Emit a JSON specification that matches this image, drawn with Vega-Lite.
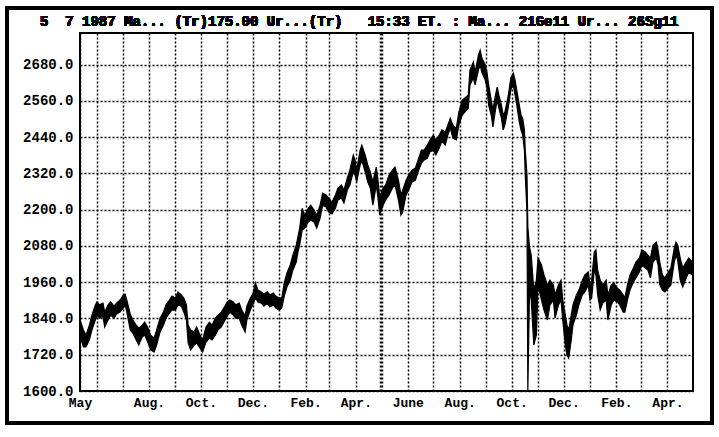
{
  "$schema": "https://vega.github.io/schema/vega-lite/v6.json",
  "width": 613,
  "height": 358,
  "autosize": "none",
  "padding": {"left": 80, "top": 33, "right": 26, "bottom": 46},
  "background": "white",
  "config": {
    "view": {"stroke": "black", "strokeWidth": 2},
    "axis": {
      "labelFont": "Liberation Mono",
      "labelFontWeight": "bold",
      "labelColor": "black",
      "ticks": false,
      "domain": false,
      "title": null,
      "gridColor": "black",
      "gridOpacity": 1,
      "gridDash": [2, 2],
      "tickCount": 100,
      "labelOverlap": false
    }
  },
  "data": {"values": [
    {"d":"1986-05-12","h":1835,"l":1785},{"d":"1986-05-16","h":1802,"l":1746},{"d":"1986-05-19","h":1785,"l":1746},
    {"d":"1986-05-23","h":1818,"l":1769},{"d":"1986-05-26","h":1851,"l":1802},{"d":"1986-05-30","h":1885,"l":1835},
    {"d":"1986-06-01","h":1895,"l":1851},{"d":"1986-06-04","h":1885,"l":1841},{"d":"1986-06-08","h":1891,"l":1848},
    {"d":"1986-06-10","h":1861,"l":1812},{"d":"1986-06-14","h":1885,"l":1835},{"d":"1986-06-17","h":1895,"l":1851},
    {"d":"1986-06-21","h":1881,"l":1841},{"d":"1986-06-24","h":1891,"l":1855},{"d":"1986-06-28","h":1901,"l":1861},
    {"d":"1986-07-02","h":1918,"l":1875},{"d":"1986-07-04","h":1921,"l":1885},{"d":"1986-07-06","h":1901,"l":1861},
    {"d":"1986-07-10","h":1855,"l":1802},{"d":"1986-07-13","h":1835,"l":1792},{"d":"1986-07-17","h":1818,"l":1769},
    {"d":"1986-07-20","h":1808,"l":1752},{"d":"1986-07-24","h":1818,"l":1779},{"d":"1986-07-27","h":1828,"l":1785},
    {"d":"1986-07-31","h":1808,"l":1759},{"d":"1986-08-03","h":1785,"l":1736},{"d":"1986-08-07","h":1775,"l":1729},
    {"d":"1986-08-10","h":1802,"l":1752},{"d":"1986-08-14","h":1841,"l":1795},{"d":"1986-08-18","h":1861,"l":1818},
    {"d":"1986-08-21","h":1885,"l":1841},{"d":"1986-08-25","h":1901,"l":1858},{"d":"1986-08-28","h":1914,"l":1868},
    {"d":"1986-09-01","h":1908,"l":1868},{"d":"1986-09-04","h":1928,"l":1885},{"d":"1986-09-08","h":1918,"l":1881},
    {"d":"1986-09-11","h":1908,"l":1861},{"d":"1986-09-14","h":1885,"l":1835},{"d":"1986-09-16","h":1818,"l":1759},
    {"d":"1986-09-19","h":1802,"l":1736},{"d":"1986-09-23","h":1795,"l":1752},{"d":"1986-09-26","h":1812,"l":1759},
    {"d":"1986-09-30","h":1785,"l":1742},{"d":"1986-10-03","h":1769,"l":1729},{"d":"1986-10-07","h":1812,"l":1762},
    {"d":"1986-10-11","h":1828,"l":1775},{"d":"1986-10-14","h":1818,"l":1769},{"d":"1986-10-18","h":1841,"l":1785},
    {"d":"1986-10-21","h":1851,"l":1802},{"d":"1986-10-25","h":1861,"l":1812},{"d":"1986-10-28","h":1875,"l":1828},
    {"d":"1986-11-01","h":1895,"l":1848},{"d":"1986-11-04","h":1901,"l":1861},{"d":"1986-11-08","h":1895,"l":1851},
    {"d":"1986-11-11","h":1885,"l":1841},{"d":"1986-11-15","h":1891,"l":1841},{"d":"1986-11-18","h":1868,"l":1818},
    {"d":"1986-11-22","h":1848,"l":1795},{"d":"1986-11-24","h":1881,"l":1835},{"d":"1986-11-28","h":1908,"l":1868},
    {"d":"1986-12-01","h":1921,"l":1885},{"d":"1986-12-04","h":1958,"l":1908},{"d":"1986-12-07","h":1934,"l":1895},
    {"d":"1986-12-11","h":1928,"l":1891},{"d":"1986-12-14","h":1921,"l":1881},{"d":"1986-12-18","h":1928,"l":1891},
    {"d":"1986-12-21","h":1918,"l":1878},{"d":"1986-12-25","h":1924,"l":1885},{"d":"1986-12-28","h":1914,"l":1875},
    {"d":"1987-01-01","h":1908,"l":1868},{"d":"1987-01-04","h":1908,"l":1875},{"d":"1987-01-07","h":1960,"l":1915},
    {"d":"1987-01-10","h":1990,"l":1944},{"d":"1987-01-14","h":2017,"l":1967},{"d":"1987-01-17","h":2050,"l":2000},
    {"d":"1987-01-21","h":2083,"l":2027},{"d":"1987-01-23","h":2110,"l":2060},{"d":"1987-01-25","h":2139,"l":2083},
    {"d":"1987-01-28","h":2205,"l":2133},{"d":"1987-01-31","h":2182,"l":2139},{"d":"1987-02-04","h":2205,"l":2159},
    {"d":"1987-02-07","h":2215,"l":2166},{"d":"1987-02-11","h":2199,"l":2159},{"d":"1987-02-14","h":2182,"l":2139},
    {"d":"1987-02-18","h":2215,"l":2172},{"d":"1987-02-21","h":2255,"l":2215},{"d":"1987-02-25","h":2249,"l":2209},
    {"d":"1987-02-28","h":2239,"l":2192},{"d":"1987-03-04","h":2225,"l":2186},{"d":"1987-03-08","h":2249,"l":2205},
    {"d":"1987-03-11","h":2272,"l":2232},{"d":"1987-03-15","h":2282,"l":2239},{"d":"1987-03-18","h":2265,"l":2222},
    {"d":"1987-03-22","h":2305,"l":2265},{"d":"1987-03-25","h":2331,"l":2282},{"d":"1987-03-29","h":2381,"l":2325},
    {"d":"1987-03-31","h":2364,"l":2315},{"d":"1987-04-02","h":2331,"l":2292},{"d":"1987-04-06","h":2397,"l":2348},
    {"d":"1987-04-08","h":2414,"l":2364},{"d":"1987-04-12","h":2381,"l":2325},{"d":"1987-04-15","h":2348,"l":2292},
    {"d":"1987-04-18","h":2325,"l":2272},{"d":"1987-04-21","h":2292,"l":2215},{"d":"1987-04-25","h":2341,"l":2282},
    {"d":"1987-04-27","h":2298,"l":2239},{"d":"1987-04-29","h":2242,"l":2182},{"d":"1987-05-03","h":2272,"l":2215},
    {"d":"1987-05-06","h":2282,"l":2232},{"d":"1987-05-10","h":2315,"l":2249},{"d":"1987-05-14","h":2331,"l":2272},
    {"d":"1987-05-17","h":2341,"l":2282},{"d":"1987-05-21","h":2298,"l":2232},{"d":"1987-05-24","h":2249,"l":2182},
    {"d":"1987-05-26","h":2265,"l":2192},{"d":"1987-05-30","h":2298,"l":2249},{"d":"1987-06-02","h":2315,"l":2265},
    {"d":"1987-06-06","h":2331,"l":2292},{"d":"1987-06-10","h":2338,"l":2298},{"d":"1987-06-13","h":2364,"l":2325},
    {"d":"1987-06-17","h":2397,"l":2354},{"d":"1987-06-20","h":2397,"l":2364},{"d":"1987-06-24","h":2414,"l":2371},
    {"d":"1987-06-27","h":2431,"l":2391},{"d":"1987-07-01","h":2447,"l":2397},{"d":"1987-07-04","h":2431,"l":2381},
    {"d":"1987-07-08","h":2447,"l":2404},{"d":"1987-07-11","h":2464,"l":2427},{"d":"1987-07-15","h":2457,"l":2414},
    {"d":"1987-07-18","h":2480,"l":2447},{"d":"1987-07-21","h":2503,"l":2470},{"d":"1987-07-24","h":2480,"l":2437},
    {"d":"1987-07-28","h":2470,"l":2431},{"d":"1987-07-31","h":2523,"l":2480},{"d":"1987-08-04","h":2563,"l":2513},
    {"d":"1987-08-07","h":2570,"l":2523},{"d":"1987-08-11","h":2579,"l":2536},{"d":"1987-08-13","h":2662,"l":2613},
    {"d":"1987-08-17","h":2689,"l":2636},{"d":"1987-08-19","h":2655,"l":2613},{"d":"1987-08-23","h":2712,"l":2662},
    {"d":"1987-08-25","h":2728,"l":2679},{"d":"1987-08-27","h":2702,"l":2655},{"d":"1987-08-31","h":2679,"l":2629},
    {"d":"1987-09-02","h":2655,"l":2603},{"d":"1987-09-04","h":2613,"l":2546},{"d":"1987-09-07","h":2563,"l":2513},
    {"d":"1987-09-09","h":2530,"l":2474},{"d":"1987-09-12","h":2579,"l":2530},{"d":"1987-09-14","h":2606,"l":2563},
    {"d":"1987-09-16","h":2579,"l":2536},{"d":"1987-09-19","h":2546,"l":2503},{"d":"1987-09-21","h":2513,"l":2464},
    {"d":"1987-09-23","h":2523,"l":2480},{"d":"1987-09-26","h":2563,"l":2523},{"d":"1987-09-28","h":2596,"l":2556},
    {"d":"1987-09-30","h":2636,"l":2596},{"d":"1987-10-03","h":2652,"l":2613},{"d":"1987-10-05","h":2629,"l":2579},
    {"d":"1987-10-07","h":2596,"l":2546},{"d":"1987-10-10","h":2546,"l":2490},{"d":"1987-10-12","h":2513,"l":2464},
    {"d":"1987-10-14","h":2503,"l":2447},{"d":"1987-10-16","h":2464,"l":2397},{"d":"1987-10-17","h":2397,"l":2315},
    {"d":"1987-10-19","h":2315,"l":2189},{"d":"1987-10-20","h":2143,"l":1600},{"d":"1987-10-22","h":2076,"l":1934},
    {"d":"1987-10-24","h":2050,"l":1901},{"d":"1987-10-27","h":1934,"l":1752},{"d":"1987-10-30","h":1967,"l":1785},
    {"d":"1987-11-01","h":2040,"l":1951},{"d":"1987-11-05","h":2017,"l":1901},{"d":"1987-11-08","h":1984,"l":1868},
    {"d":"1987-11-12","h":1951,"l":1835},{"d":"1987-11-15","h":1967,"l":1885},{"d":"1987-11-19","h":1951,"l":1901},
    {"d":"1987-11-21","h":1918,"l":1841},{"d":"1987-11-25","h":1951,"l":1885},{"d":"1987-11-28","h":1967,"l":1901},
    {"d":"1987-11-30","h":1901,"l":1835},{"d":"1987-12-03","h":1851,"l":1752},{"d":"1987-12-05","h":1818,"l":1719},
    {"d":"1987-12-07","h":1802,"l":1709},{"d":"1987-12-10","h":1851,"l":1769},{"d":"1987-12-12","h":1885,"l":1818},
    {"d":"1987-12-16","h":1918,"l":1851},{"d":"1987-12-19","h":1934,"l":1885},{"d":"1987-12-23","h":1967,"l":1918},
    {"d":"1987-12-26","h":1984,"l":1928},{"d":"1987-12-30","h":1994,"l":1951},{"d":"1988-01-01","h":1951,"l":1901},
    {"d":"1988-01-03","h":1967,"l":1908},{"d":"1988-01-06","h":2060,"l":2000},{"d":"1988-01-08","h":2067,"l":1984},
    {"d":"1988-01-10","h":2000,"l":1918},{"d":"1988-01-13","h":1967,"l":1868},{"d":"1988-01-16","h":1951,"l":1891},
    {"d":"1988-01-20","h":1967,"l":1901},{"d":"1988-01-22","h":1918,"l":1835},{"d":"1988-01-26","h":1951,"l":1885},
    {"d":"1988-01-29","h":1957,"l":1901},{"d":"1988-02-02","h":1941,"l":1895},{"d":"1988-02-05","h":1934,"l":1885},
    {"d":"1988-02-09","h":1918,"l":1861},{"d":"1988-02-11","h":1908,"l":1861},{"d":"1988-02-14","h":1951,"l":1901},
    {"d":"1988-02-17","h":1984,"l":1934},{"d":"1988-02-21","h":2007,"l":1961},{"d":"1988-02-24","h":2027,"l":1974},
    {"d":"1988-02-28","h":2040,"l":1994},{"d":"1988-03-02","h":2067,"l":2017},{"d":"1988-03-06","h":2060,"l":2007},
    {"d":"1988-03-09","h":2050,"l":2000},{"d":"1988-03-12","h":2040,"l":1974},{"d":"1988-03-15","h":2083,"l":2027},
    {"d":"1988-03-19","h":2093,"l":2040},{"d":"1988-03-21","h":2067,"l":2017},{"d":"1988-03-23","h":2027,"l":1951},
    {"d":"1988-03-26","h":1984,"l":1934},{"d":"1988-03-29","h":1974,"l":1928},{"d":"1988-04-02","h":1994,"l":1941},
    {"d":"1988-04-05","h":2007,"l":1951},{"d":"1988-04-09","h":2073,"l":2027},{"d":"1988-04-11","h":2093,"l":2050},
    {"d":"1988-04-13","h":2083,"l":2033},{"d":"1988-04-16","h":2040,"l":1967},{"d":"1988-04-19","h":2007,"l":1944},
    {"d":"1988-04-23","h":2027,"l":1974},{"d":"1988-04-26","h":2040,"l":1994},{"d":"1988-04-30","h":2027,"l":1984}
  ]},
  "layer": [
    {
      "mark": {"type": "area", "color": "black", "stroke": "black", "strokeWidth": 1.2, "interpolate": "linear"},
      "encoding": {
        "x": {
          "field": "d", "type": "temporal",
          "scale": {"type": "utc", "domain": [{"year": 1986, "month": 5, "date": 12, "utc": true}, {"year": 1988, "month": 5, "date": 1, "utc": true}]},
          "axis": {
            "values": [
              {"year": 1986, "month": 5, "date": 12, "utc": true},
              {"year": 1986, "month": 6, "date": 1, "utc": true},
              {"year": 1986, "month": 7, "date": 1, "utc": true},
              {"year": 1986, "month": 8, "date": 1, "utc": true},
              {"year": 1986, "month": 9, "date": 1, "utc": true},
              {"year": 1986, "month": 10, "date": 1, "utc": true},
              {"year": 1986, "month": 11, "date": 1, "utc": true},
              {"year": 1986, "month": 12, "date": 1, "utc": true},
              {"year": 1987, "month": 1, "date": 1, "utc": true},
              {"year": 1987, "month": 2, "date": 1, "utc": true},
              {"year": 1987, "month": 3, "date": 1, "utc": true},
              {"year": 1987, "month": 4, "date": 1, "utc": true},
              {"year": 1987, "month": 5, "date": 1, "utc": true},
              {"year": 1987, "month": 6, "date": 1, "utc": true},
              {"year": 1987, "month": 7, "date": 1, "utc": true},
              {"year": 1987, "month": 8, "date": 1, "utc": true},
              {"year": 1987, "month": 9, "date": 1, "utc": true},
              {"year": 1987, "month": 10, "date": 1, "utc": true},
              {"year": 1987, "month": 11, "date": 1, "utc": true},
              {"year": 1987, "month": 12, "date": 1, "utc": true},
              {"year": 1988, "month": 1, "date": 1, "utc": true},
              {"year": 1988, "month": 2, "date": 1, "utc": true},
              {"year": 1988, "month": 3, "date": 1, "utc": true},
              {"year": 1988, "month": 4, "date": 1, "utc": true}
            ],
            "labelExpr": "utcFormat(datum.value,'%Y-%m')=='1986-05' ? 'May' : utcFormat(datum.value,'%Y-%m')=='1986-06' ? '' : utcmonth(datum.value)==5 ? 'June' : utcmonth(datum.value)%2==1 ? utcFormat(datum.value,'%b')+'.' : ''",
            "labelFontSize": 13,
            "labelPadding": 5,
            "labelBaseline": "top",
            "labelFlush": false,
            "labelBound": false,
            "gridWidth": {"condition": {"test": "utcFormat(datum.value,'%Y-%m')=='1987-05'", "value": 3.5}, "value": 1.5}
          }
        },
        "y": {
          "field": "h", "type": "quantitative",
          "scale": {"domain": [1600, 2785], "nice": false, "zero": false},
          "axis": {
            "values": [1600, 1720, 1840, 1960, 2080, 2200, 2320, 2440, 2560, 2680],
            "format": ".1f",
            "labelFontSize": 14,
            "labelPadding": 7,
            "gridWidth": 1.5
          }
        },
        "y2": {"field": "l"}
      }
    },
    {
      "mark": {"type": "rect", "fill": "transparent", "stroke": "black", "strokeWidth": 3, "clip": false},
      "encoding": {
        "x": {"datum": {"year": 1986, "month": 2, "date": 15, "utc": true}, "type": "temporal"},
        "x2": {"datum": {"year": 1988, "month": 5, "date": 23, "utc": true}},
        "y": {"datum": 2867, "type": "quantitative"},
        "y2": {"datum": 1494}
      }
    },
    {
      "mark": {"type": "text", "align": "left", "baseline": "alphabetic", "font": "Liberation Mono", "fontSize": 14, "fontWeight": "bold", "color": "black", "clip": false},
      "encoding": {
        "x": {"datum": {"year": 1986, "month": 3, "date": 26, "utc": true}, "type": "temporal"},
        "y": {"datum": 2808, "type": "quantitative"},
        "text": {"value": "5\u00a0\u00a07\u00a01987\u00a0Ma...\u00a0(Tr)175.00\u00a0Ur...(Tr)\u00a0\u00a0\u00a015:33\u00a0ET.\u00a0:\u00a0Ma...\u00a021Ge11\u00a0Ur...\u00a026Sg11"}
      }
    }
  ]
}
